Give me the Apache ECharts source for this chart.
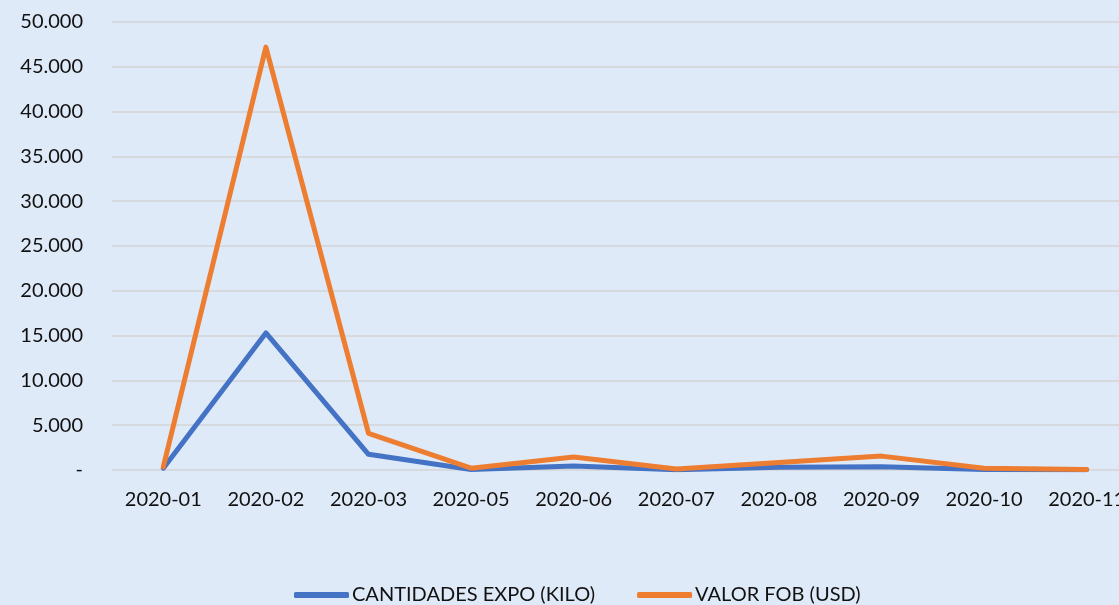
<!DOCTYPE html>
<html>
<head>
<meta charset="utf-8">
<script src="https://cdn.jsdelivr.net/npm/echarts@6/dist/echarts.min.js"></script>
<style>
  html, body { margin: 0; padding: 0; background: #dfeaf8; overflow: hidden; }
  /* el area de trazado sigue mas alla del borde derecho (recortada) */
  #chart { width: 1140px; height: 605px; }
</style>
</head>
<body>
<div id="chart"></div>
<script>
var meses = ['2020-01', '2020-02', '2020-03', '2020-05', '2020-06', '2020-07', '2020-08', '2020-09', '2020-10', '2020-11'];
var cantidades = [200, 15300, 1750, 50, 450, 20, 300, 350, 60, 20];   // kilos
var valorFob = [350, 47200, 4100, 200, 1450, 100, 850, 1550, 200, 50]; // USD
var ticksY = [0, 5000, 10000, 15000, 20000, 25000, 30000, 35000, 40000, 45000, 50000];

var fuente = 'Lato, "Open Sans", sans-serif';

function formatoMiles(v) {
    if (v == 0) return '-';
    return String(v).replace(/\B(?=(\d{3})+(?!\d))/g, '.');
}

var myChart = echarts.init(document.getElementById('chart'));
var option = {
    backgroundColor: '#dfeaf8',
    textStyle: { fontFamily: fuente },
    grid: { left: 112, top: 22, width: 1026, height: 448 },
    legend: {
        top: 580,
        left: 289,
        itemWidth: 55,
        itemHeight: 6,
        itemGap: 42,
        icon: 'roundRect',
        textStyle: { fontSize: 20, color: '#111', fontFamily: fuente, padding: [0, 0, 0, -2] },
        data: ['CANTIDADES EXPO (KILO)', 'VALOR FOB (USD)']
    },
    xAxis: {
        type: 'category',
        data: meses,
        boundaryGap: true,
        axisLine: { show: false },
        axisTick: { show: false },
        axisLabel: { fontSize: 20, color: '#111', margin: 20, interval: 0 }
    },
    yAxis: {
        type: 'value',
        min: 0,
        max: ticksY[ticksY.length - 1],
        interval: 5000,
        axisLine: { show: false },
        axisTick: { show: false },
        splitLine: { lineStyle: { color: '#d6d9dd', width: 2 } },
        axisLabel: { fontSize: 20, color: '#111', margin: 29, formatter: formatoMiles }
    },
    series: [
        {
            name: 'CANTIDADES EXPO (KILO)',
            type: 'line',
            data: cantidades,
            symbol: 'none',
            lineStyle: { color: '#4472c4', width: 5, cap: 'round', join: 'round' },
            itemStyle: { color: '#4472c4' }
        },
        {
            name: 'VALOR FOB (USD)',
            type: 'line',
            data: valorFob,
            symbol: 'none',
            lineStyle: { color: '#ed7d31', width: 5, cap: 'round', join: 'round' },
            itemStyle: { color: '#ed7d31' }
        }
    ]
};
myChart.setOption(option);
</script>
</body>
</html>
